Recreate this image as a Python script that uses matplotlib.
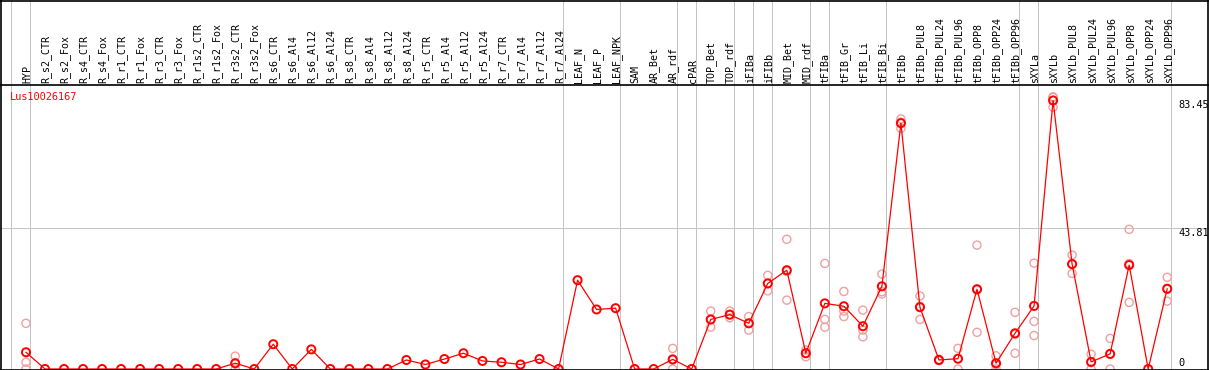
import numpy as np
import matplotlib
matplotlib.use("Agg")
import matplotlib.pyplot as plt

title = "Lus10026167"
categories = [
    "HYP", "R_s2_CTR", "R_s2_Fox", "R_s4_CTR", "R_s4_Fox", "R_r1_CTR", "R_r1_Fox",
    "R_r3_CTR", "R_r3_Fox", "R_r1s2_CTR", "R_r1s2_Fox", "R_r3s2_CTR", "R_r3s2_Fox",
    "R_s6_CTR", "R_s6_Al4", "R_s6_Al12", "R_s6_Al24", "R_s8_CTR", "R_s8_Al4",
    "R_s8_Al12", "R_s8_Al24", "R_r5_CTR", "R_r5_Al4", "R_r5_Al12", "R_r5_Al24",
    "R_r7_CTR", "R_r7_Al4", "R_r7_Al12", "R_r7_Al24", "LEAF_N", "LEAF_P", "LEAF_NPK",
    "SAM", "AR_Bet", "AR_rdf", "cPAR", "TOP_Bet", "TOP_rdf", "iFIBa", "iFIBb",
    "MID_Bet", "MID_rdf", "tFIBa", "tFIB_Gr", "tFIB_Li", "tFIB_Bi", "tFIBb",
    "tFIBb_PUL8", "tFIBb_PUL24", "tFIBb_PUL96", "tFIBb_OPP8", "tFIBb_OPP24", "tFIBb_OPP96",
    "sXYLa", "sXYLb", "sXYLb_PUL8", "sXYLb_PUL24", "sXYLb_PUL96", "sXYLb_OPP8",
    "sXYLb_OPP24", "sXYLb_OPP96",
]

mean_values = [
    5.2, 0, 0, 0, 0, 0, 0, 0, 0, 0, 0, 1.8, 0,
    7.7, 0, 6.1, 0, 0, 0, 0, 2.8, 1.4, 3.1, 4.9, 2.5,
    2.1, 1.4, 3.1, 0, 27.6, 18.5, 18.9,
    0, 0, 3.0, 0, 15.4, 16.9, 14.2, 26.6,
    30.7, 4.9, 20.4, 19.5, 13.3, 25.7, 76.4,
    19.2, 2.8, 3.2, 24.8, 1.8, 11.1,
    19.6, 83.45, 32.6, 2.2, 4.7, 32.3, 0, 24.9,
]

# replicate values (category index, value)
replicate_idx = [
    0, 0, 0,
    11, 11, 11,
    34, 34, 34,
    36, 36, 36,
    37, 37, 37,
    38, 38, 38,
    39, 39, 39,
    40, 40, 40,
    41, 41, 41,
    42, 42, 42,
    43, 43, 43,
    44, 44, 44,
    45, 45, 45,
    46, 46, 46,
    47, 47, 47,
    48, 48, 48,
    49, 49, 49,
    50, 50, 50,
    51, 51, 51,
    52, 52, 52,
    53, 53, 53,
    54, 54, 54,
    55, 55, 55,
    56, 56, 56,
    57, 57, 57,
    58, 58, 58,
    60, 60, 60,
]
replicate_values = [
    14.2, 2.1, 0.0,
    4.0, 1.5, 0.0,
    6.4, 2.8, 0.0,
    18.0, 13.0, 15.3,
    18.0, 15.9, 16.8,
    16.3, 12.1, 14.2,
    29.1, 24.3, 26.5,
    40.3, 21.4, 30.3,
    5.9, 3.8, 5.0,
    32.8, 15.4, 13.0,
    24.1, 16.3, 18.0,
    18.3, 12.1, 10.0,
    29.5, 24.0, 23.3,
    77.7, 74.8, 76.7,
    22.7, 15.4, 19.5,
    3.0, 2.7, 2.6,
    6.4, 0.0, 3.2,
    38.5, 11.4, 24.5,
    4.1, 0.0, 1.3,
    17.6, 4.9, 10.8,
    32.9, 14.8, 10.4,
    84.6, 84.4, 81.35,
    35.4, 29.7, 32.7,
    4.6, 0.0, 2.0,
    9.5, 0.0, 4.6,
    43.4, 20.7, 32.8,
    28.5, 21.1, 25.1,
]

group_ends = [-1, 0, 28, 31, 34, 35, 37, 38, 39, 41, 42, 45, 52, 53, 60]
grid_value = 43.81
max_label = "83.45"

W, H = 1209, 370
DPI = 100
fig = plt.figure(figsize=(W / DPI, H / DPI), dpi=DPI)
fig.patch.set_facecolor("white")

# pixel geometry
x0_px, dx_px = 26.0, 19.02
zero_row, scale = 369.0, 3.218   # px per unit
header_row = 85

xlim = (-x0_px / dx_px, (W - x0_px) / dx_px)

# plot axes (rows header_row .. H)
ax = fig.add_axes([0, 0, 1, (H - header_row) / H])
ax.set_xlim(*xlim)
ax.set_ylim(-(H - zero_row) / scale, (zero_row - header_row) / scale)
ax.axis("off")

# header axes
hax = fig.add_axes([0, (H - header_row) / H, 1, header_row / H])
hax.set_xlim(*xlim)
hax.set_ylim(0, header_row)
hax.axis("off")

grey = "#c4c4c4"
lw = 0.72
mono = "DejaVu Sans Mono"

# separators
for g in group_ends:
    xs = g + 4.0 / dx_px
    ax.axvline(xs, color=grey, lw=lw, zorder=1)
    hax.axvline(xs, color=grey, lw=lw, zorder=1)

ax.axhline(grid_value, color=grey, lw=lw, zorder=1)

x = np.arange(len(categories))
ax.scatter(replicate_idx, replicate_values, s=34, facecolors="none",
           edgecolors="#f0a0a0", linewidths=1.0, zorder=2, clip_on=False)
ax.plot(x, mean_values, color="red", lw=0.9, zorder=3, clip_on=False)
ax.scatter(x, mean_values, s=34, facecolors="none", edgecolors="red",
           linewidths=1.4, zorder=4, clip_on=False)

# header labels
for i, c in enumerate(categories):
    hax.text(i + 0.05, 2, c, rotation=90, ha="center", va="bottom",
             fontsize=7.2, family=mono, color="black")

# title
ax.text(10 / dx_px + xlim[0], (zero_row - 97) / scale, title, color="red",
        fontsize=7.4, family=mono, ha="left", va="center")

# right value labels
lab_x = xlim[0] + 1178 / dx_px
ax.text(lab_x, 83.45, max_label, fontsize=7.4, family=mono, ha="left", va="top")
ax.text(lab_x, grid_value, f"{grid_value:.2f}", fontsize=7.4, family=mono, ha="left", va="top")
ax.text(lab_x, (zero_row - 358) / scale, "0", fontsize=7.4, family=mono, ha="left", va="top")

# black frame
def frame_line(x0, y0, x1, y1):
    fig.add_artist(plt.Line2D([x0 / W, x1 / W], [1 - y0 / H, 1 - y1 / H],
                              color="black", lw=1.2, transform=fig.transFigure))

frame_line(0.8, 0, 0.8, H)
frame_line(1207.5, 0, 1207.5, H)
frame_line(0, 0.6, W, 0.6)
frame_line(0, header_row, W, header_row)
frame_line(0, zero_row + 0.5, W, zero_row + 0.5)

fig.savefig("out.png", dpi=DPI, facecolor="white")
